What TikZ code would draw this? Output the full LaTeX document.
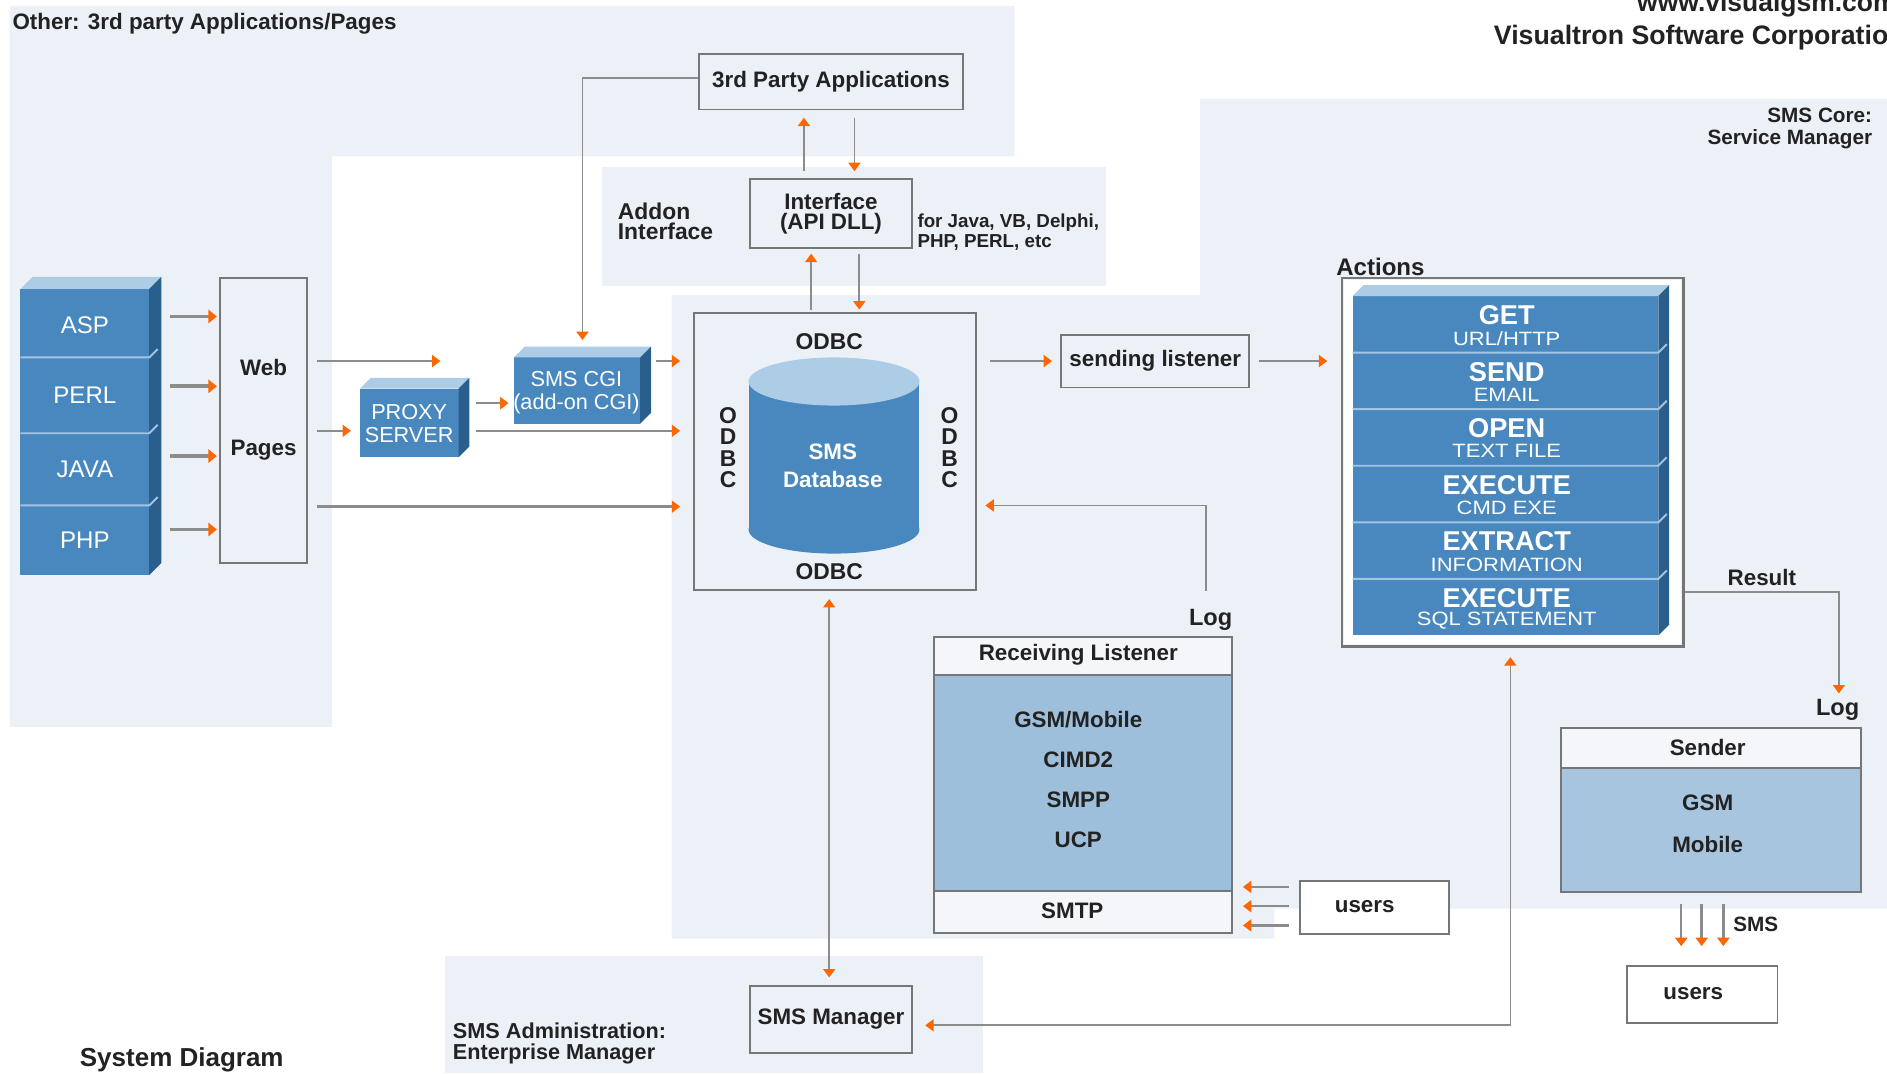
\documentclass[tikz,border=0pt]{standalone}
\usepackage{fontspec}
\setmainfont{Liberation Sans}
\newfontfamily\widesans[FakeStretch=1.14]{Liberation Sans}
\usetikzlibrary{arrows.meta,fit,calc}
\definecolor{bgc}{RGB}{236,241,248}
\definecolor{frontc}{RGB}{72,136,190}
\definecolor{topc}{RGB}{172,205,229}
\definecolor{sidec}{RGB}{42,95,141}
\definecolor{sepc}{RGB}{160,196,226}
\definecolor{bodyc}{RGB}{158,191,220}
\definecolor{headc}{RGB}{244,246,250}
\definecolor{boxgray}{RGB}{118,118,118}
\definecolor{linegray}{RGB}{140,140,140}
\definecolor{aorange}{RGB}{255,102,0}
\definecolor{txt}{RGB}{34,34,34}
\newcommand{\mycube}[5]{%
  \fill[frontc] (#1,#2) rectangle (#3,#4);
  \fill[topc] (#1,#2) -- ({#1+#5},{#2-#5}) -- ({#3+#5},{#2-#5}) -- (#3,#2) -- cycle;
  \fill[sidec] (#3,#2) -- ({#3+#5},{#2-#5}) -- ({#3+#5},{#4-#5}) -- (#3,#4) -- cycle;
}
\newcommand{\mysep}[4]{% x1,x2,y,d
  \draw[sepc, line width=0.8pt] (#1,#3) -- (#2,#3) -- ({#2+#4},{#3-#4});
}
\tikzset{
  box/.style={draw=boxgray, line width=0.8pt, inner sep=0pt},
  ghost/.style={inner sep=0pt},
  otip/.tip={Triangle[color=aorange, length=3.5pt, width=5pt]},
  conn/.style={draw=linegray, line width=0.7pt},
  arr/.style={conn, -otip},
  arrb/.style={conn, otip-otip},
  tarr/.style={draw=linegray, line width=1.5pt, -{Triangle[color=aorange, length=3.5pt, width=5.5pt]}},
  lab/.style={font=\fontsize{9.3}{10}\selectfont\bfseries, text=txt, inner sep=0pt},
  wtxt/.style={font=\fontsize{10}{10}\selectfont, text=white, inner sep=0pt},
  atitle/.style={font=\fontsize{11.3}{11}\selectfont\bfseries, text=white, inner sep=0pt},
  asub/.style={font=\widesans\fontsize{8}{8}\selectfont, text=white, inner sep=0pt},
}
\begin{document}
\begin{tikzpicture}[x=0.5pt,y=-0.5pt]
\useasboundingbox (0,0) rectangle (1568,892);
% ---------------- background regions
\fill[bgc] (8,5) -- (843,5) -- (843,130) -- (276,130) -- (276,604) -- (8,604) -- cycle;
\fill[bgc] (500,139) rectangle (919,238);
\fill[bgc] (997,82) -- (1568,82) -- (1568,755) -- (1059,755) -- (1059,780) -- (558,780) -- (558,245) -- (997,245) -- cycle;
\fill[bgc] (370,794) rectangle (817,892);

% ---------------- region labels
\node[lab, anchor=west] at (10,20) {Other: 3rd party Applications/Pages};
\node[font=\fontsize{11}{11}\selectfont\bfseries, text=txt, anchor=west, inner sep=0pt] at (1360,4) {www.visualgsm.com};
\node[font=\fontsize{11.1}{11}\selectfont\bfseries, text=txt, anchor=west, inner sep=0pt] at (1241,31) {Visualtron Software Corporation};
\node[font=\fontsize{8.6}{9}\selectfont\bfseries, text=txt, anchor=east, align=right, inner sep=0pt] at (1556,107) {SMS Core:\\Service Manager};
\node[font=\fontsize{9.5}{8.6}\selectfont\bfseries, text=txt, anchor=west, align=left, inner sep=0pt] at (513,184) {Addon\\Interface};
\node[font=\fontsize{7.8}{8}\selectfont\bfseries, text=txt, anchor=west, align=left, inner sep=0pt] at (762,193) {for Java, VB, Delphi,\\PHP, PERL, etc};
\node[font=\fontsize{9}{9}\selectfont\bfseries, text=txt, anchor=west, align=left, inner sep=0pt] at (376,867) {SMS Administration:\\Enterprise Manager};
\node[font=\fontsize{10.8}{11}\selectfont\bfseries, text=txt, anchor=west, inner sep=0pt] at (66,881) {System Diagram};

% ---------------- 3rd party / interface
\node[box, fit={(581,45)(800,91)}] (tpa) {};
\node[lab] at (tpa) {3rd Party Applications};
\node[box, fit={(623,149)(758,206)}] (iface) {};
\node[lab, align=center, font=\fontsize{9.3}{8.6}\selectfont\bfseries] at (iface) {Interface\\(API DLL)};

% ---------------- ASP / PERL / JAVA / PHP stack
\mycube{17}{240}{124}{478}{10}
\mysep{17}{124}{297}{7}
\mysep{17}{124}{360}{7}
\mysep{17}{124}{420}{7}
\node[ghost, fit={(17,230)(134,478)}] (stk) {};
\node[ghost, fit={(17,240)(124,297)}] (asp) {};
\node[ghost, fit={(17,297)(124,360)}] (perl) {};
\node[ghost, fit={(17,360)(124,420)}] (java) {};
\node[ghost, fit={(17,420)(124,478)}] (php) {};
\node[wtxt] at ([yshift=-1pt]asp) {ASP};
\node[wtxt] at (perl) {PERL};
\node[wtxt] at (java) {JAVA};
\node[wtxt] at (php) {PHP};

% ---------------- web pages
\node[box, fit={(183,231)(255,468)}] (web) {};
\node[lab] at (219,305) {Web};
\node[lab] at (219,374) {Pages};
\foreach \yy in {263,321,379,440}
  \draw[tarr, shorten <=3.5pt, shorten >=1pt] (stk.east |- 0,\yy) -- (web.west |- 0,\yy);

% ---------------- proxy & cgi
\mycube{299}{323}{381}{380}{9}
\node[ghost, fit={(299,314)(390,380)}] (proxy) {};
\node[wtxt, align=center, font=\fontsize{9}{9.5}\selectfont] at (340,352) {PROXY\\SERVER};
\mycube{427}{297}{532}{352}{9}
\node[ghost, fit={(427,288)(541,352)}] (cgi) {};
\node[wtxt, align=center, font=\fontsize{9}{9.5}\selectfont] at (479,326) {SMS CGI\\(add-on CGI)};

% ---------------- database
\node[box, fit={(577,260)(811,490)}] (dbbox) {};
\fill[frontc] (622,317) rectangle (764,440);
\fill[frontc] (693,440) ellipse [x radius=71, y radius=20];
\fill[topc] (693,317) ellipse [x radius=71, y radius=20];
\node[ghost, fit={(622,297)(764,460)}] (db) {};
\node[wtxt, align=center, font=\fontsize{9.3}{11.5}\selectfont\bfseries] at (692,387) {SMS\\Database};
\node[lab, font=\fontsize{9.5}{10}\selectfont\bfseries] at (689,284) {ODBC};
\node[lab, font=\fontsize{9.5}{10}\selectfont\bfseries] at (689,475) {ODBC};
\node[lab, align=center, font=\fontsize{9.5}{8.8}\selectfont\bfseries] at (605,372) {O\\D\\B\\C};
\node[lab, align=center, font=\fontsize{9.5}{8.8}\selectfont\bfseries] at (789,372) {O\\D\\B\\C};

% ---------------- connectors left part
\coordinate (wend) at (366,300);
\draw[arr, line width=1pt, shorten <=4pt] (web.east |- wend) -- (wend);
\draw[arr, line width=1pt, shorten <=4pt, shorten >=3.5pt] (web.east |- 0,358) -- (proxy.west |- 0,358);
\draw[arr, line width=1pt, shorten <=2.5pt, shorten >=2pt] (proxy.east |- 0,335) -- (cgi.west |- 0,335);
\draw[arr, line width=1pt, shorten <=2pt, shorten >=5.5pt] (cgi.east |- 0,300) -- (dbbox.west |- 0,300);
\draw[arr, line width=1pt, shorten <=2.5pt, shorten >=5.5pt] (proxy.east |- 0,358) -- (dbbox.west |- 0,358);
\draw[arr, line width=1pt, shorten <=4pt, shorten >=5.5pt] (web.east |- 0,421) -- (dbbox.west |- 0,421);
\draw[arr, shorten >=2.5pt] (tpa.west |- 0,65) -| (cgi.north);
\draw[arr, shorten <=3pt, shorten >=3pt] (iface.north -| 668,0) -- (tpa.south -| 668,0);
\draw[arr, shorten <=3pt, shorten >=3pt] (tpa.south -| 710,0) -- (iface.north -| 710,0);
\draw[arr, shorten <=1pt, shorten >=2pt] (dbbox.north -| 674,0) -- (iface.south -| 674,0);
\draw[arr, shorten <=2pt, shorten >=1pt] (iface.south -| 714,0) -- (dbbox.north -| 714,0);

% ---------------- sending listener & actions
\node[box, fit={(882,278)(1038,322)}] (sl) {};
\node[lab] at (sl) {sending listener};
\draw[arr, line width=1pt, shorten <=5.5pt, shorten >=3.5pt] (dbbox.east |- 0,300) -- (sl.west |- 0,300);

\fill[white] (1117,233) rectangle (1397,535);
\node[box, line width=1.1pt, fit={(1115,231)(1399,537)}] (actions) {};
\mycube{1124}{246}{1378}{528}{9}
\foreach \yy in {293,340,387,434,481} { \mysep{1124}{1378}{\yy}{7} }
\node[lab, font=\fontsize{10}{10}\selectfont\bfseries, anchor=west] at (1110,222) {Actions};
\draw[arr, line width=1pt, shorten <=3.5pt, shorten >=5.5pt] (sl.east |- 0,300) -- (actions.west |- 0,300);
\foreach \ti/\su/\yy in {GET/URL\slash HTTP/246, SEND/EMAIL/293, OPEN/TEXT FILE/340, EXECUTE/CMD EXE/387, EXTRACT/INFORMATION/434, EXECUTE/SQL STATEMENT/481} {
  \node[atitle] at (1252,\yy+16) {\ti};
  \node[asub] at (1252,\yy+35) {\su};
}

% ---------------- receiving listener
\fill[headc] (776,529) rectangle (1024,561);
\fill[bodyc] (776,561) rectangle (1024,740);
\fill[headc] (776,740) rectangle (1024,775);
\draw[boxgray, line width=0.8pt] (776,561) -- (1024,561) (776,740) -- (1024,740);
\node[box, fit={(776,529)(1024,775)}] (rl) {};
\node[lab] at (896,544) {Receiving Listener};
\node[lab] at (896,598) {GSM/Mobile};
\node[lab] at (896,631) {CIMD2};
\node[lab] at (896,665) {SMPP};
\node[lab] at (896,698) {UCP};
\node[lab] at (891,757) {SMTP};
\draw[arr, shorten <=18.5pt, shorten >=3.5pt] (rl.north -| 1002,0) |- (dbbox.east |- 0,420);
\node[lab, font=\fontsize{9.8}{10}\selectfont\bfseries] at (1006,515) {Log};

\node[box, fill=white, fit={(1080,732)(1204,776)}] (usersa) {};
\node[lab] at (1134,753) {users};
\foreach \yy in {737,753,769}
  \draw[arr, line width=1pt, shorten <=4pt, shorten >=4pt] (usersa.west |- 0,\yy) -- (rl.east |- 0,\yy);

% ---------------- SMS manager
\node[box, fit={(623,819)(758,875)}] (mgr) {};
\node[lab] at (mgr) {SMS Manager};
\draw[arrb, shorten <=3.5pt, shorten >=3pt] (dbbox.south -| 689,0) -- (mgr.north -| 689,0);
\draw[arrb, shorten <=4pt, shorten >=5pt] (actions.south -| 1255,0) |- (mgr.east |- 0,852);

% ---------------- sender
\fill[headc] (1297,605) rectangle (1546,638);
\fill[bodyc!90!white] (1297,638) rectangle (1546,741);
\draw[boxgray, line width=0.8pt] (1297,638) -- (1546,638);
\node[box, fit={(1297,605)(1546,741)}] (sender) {};
\node[lab] at (1419,621) {Sender};
\node[lab] at (1419,667) {GSM};
\node[lab] at (1419,702) {Mobile};
\draw[arr, shorten >=14pt] (actions.east |- 0,492) -| (sender.north -| 1528,0);
\node[lab] at (1464,480) {Result};
\node[lab, font=\fontsize{9.8}{10}\selectfont\bfseries] at (1527,590) {Log};

\node[box, fill=white, fit={(1352,803)(1477,850)}] (usersb) {};
\node[lab] at (1407,826) {users};
\foreach \xx in {1397,1414,1432}
  \draw[arr, line width=1pt, shorten <=4.5pt, shorten >=8pt] (sender.south -| \xx,0) -- (usersb.north -| \xx,0);
\node[lab, font=\fontsize{8.6}{9}\selectfont\bfseries] at (1459,768) {SMS};
\end{tikzpicture}
\end{document}
